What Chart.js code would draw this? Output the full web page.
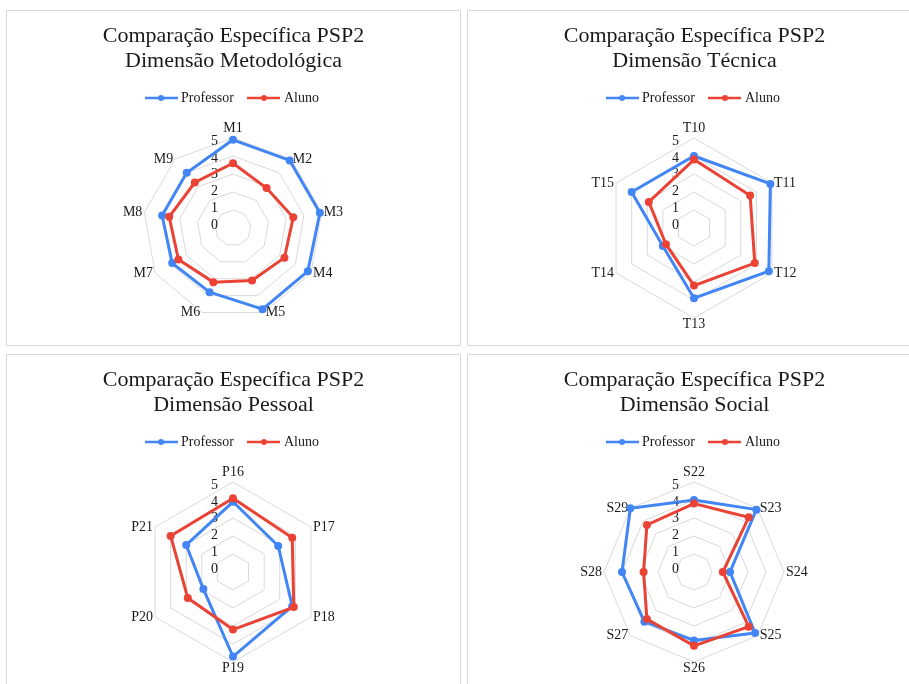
<!DOCTYPE html>
<html lang="pt">
<head>
<meta charset="utf-8">
<title>Comparação Específica PSP2</title>
<script src="https://cdn.jsdelivr.net/npm/chart.js@4.4.1/dist/chart.umd.min.js"></script>
<style>
  html, body { margin: 0; padding: 0; background: #ffffff; width: 909px; height: 684px; overflow: hidden; }
  .panel { position: absolute; width: 453px; height: 334px; border: 1px solid #dadada; background: #ffffff; }
  .panel canvas { display: block; }
</style>
</head>
<body>
<div class="panel" style="left:6px; top:10px;"><canvas id="chartMetodologica" width="453" height="334" style="width:453px;height:334px"></canvas></div>
<div class="panel" style="left:467px; top:10px;"><canvas id="chartTecnica" width="453" height="334" style="width:453px;height:334px"></canvas></div>
<div class="panel" style="left:6px; top:354px;"><canvas id="chartPessoal" width="453" height="334" style="width:453px;height:334px"></canvas></div>
<div class="panel" style="left:467px; top:354px;"><canvas id="chartSocial" width="453" height="334" style="width:453px;height:334px"></canvas></div>
<script>
// ---- data ----
const seriesNames = ['Professor', 'Aluno'];
const seriesColors = ['#4285F4', '#EA4335'];
const tickValues = [0, 1, 2, 3, 4, 5];
const titleLine = 'Comparação Específica PSP2';

const metodologicaTitle = 'Dimensão Metodológica';
const metodologicaLabels = ['M1', 'M2', 'M3', 'M4', 'M5', 'M6', 'M7', 'M8', 'M9'];
const metodologicaProfessor = [4.9, 4.9, 4.9, 4.8, 4.8, 3.8, 3.9, 4.0, 4.0];
const metodologicaAluno = [3.6, 2.9, 3.4, 3.3, 3.1, 3.2, 3.5, 3.6, 3.3];

const tecnicaTitle = 'Dimensão Técnica';
const tecnicaLabels = ['T10', 'T11', 'T12', 'T13', 'T14', 'T15'];
const tecnicaProfessor = [4.0, 4.9, 4.8, 3.9, 2.0, 4.0];
const tecnicaAluno = [3.8, 3.6, 3.9, 3.2, 1.8, 2.9];

const pessoalTitle = 'Dimensão Pessoal';
const pessoalLabels = ['P16', 'P17', 'P18', 'P19', 'P20', 'P21'];
const pessoalProfessor = [3.9, 2.9, 3.8, 4.7, 1.9, 3.0];
const pessoalAluno = [4.1, 3.8, 3.9, 3.2, 2.9, 4.0];

const socialTitle = 'Dimensão Social';
const socialLabels = ['S22', 'S23', 'S24', 'S25', 'S26', 'S27', 'S28', 'S29'];
const socialProfessor = [4.0, 4.9, 2.0, 4.8, 3.8, 3.9, 4.0, 5.0];
const socialAluno = [3.8, 4.3, 1.6, 4.3, 4.1, 3.7, 2.8, 3.7];

// ---- styling ----
const SERIF = '"Liberation Serif", "Times New Roman", Times, serif';
const TEXT_COLOR = '#1a1a1a';

// legend swatch: short line with a dot in the middle
function legendSwatch(color) {
  const c = document.createElement('canvas');
  c.width = 33; c.height = 10;
  const g = c.getContext('2d');
  g.strokeStyle = color; g.lineWidth = 2.5;
  g.beginPath(); g.moveTo(0, 5); g.lineTo(33, 5); g.stroke();
  g.fillStyle = color;
  g.beginPath(); g.arc(16.5, 5, 3, 0, Math.PI * 2); g.fill();
  return c;
}

// value labels beside the vertical axis and category labels around the web
const radarText = {
  id: 'radarText',
  beforeDatasetsDraw(chart) {
    const scale = chart.scales.r;
    const ctx = chart.ctx;
    ctx.save();
    ctx.fillStyle = TEXT_COLOR;
    ctx.font = '14px ' + SERIF;

    ctx.textAlign = 'right';
    ctx.textBaseline = 'middle';
    tickValues.forEach(v => {
      const d = scale.getDistanceFromCenterForValue(v);
      ctx.fillText(String(v), scale.xCenter - 15, scale.yCenter - d * 0.93 - 3);
    });

    const labels = chart.data.labels;
    const n = labels.length;
    const outer = scale.getDistanceFromCenterForValue(scale.max);
    labels.forEach((lab, i) => {
      const p = scale.getPointPosition(i, outer);
      const deg = 360 * i / n;
      let x = p.x, y = p.y;
      if (deg === 0) { ctx.textAlign = 'center'; ctx.textBaseline = 'bottom'; y -= 3; }
      else if (deg === 180) { ctx.textAlign = 'center'; ctx.textBaseline = 'top'; y -= 1; }
      else if (deg < 180) { ctx.textAlign = 'left'; ctx.textBaseline = 'middle'; x += 2; }
      else { ctx.textAlign = 'right'; ctx.textBaseline = 'middle'; x -= 2; }
      ctx.fillText(lab, x, y);
    });
    ctx.restore();
  }
};

function makeRadar(canvasId, subtitle, labels, professor, aluno) {
  const values = [professor, aluno];
  new Chart(document.getElementById(canvasId), {
    type: 'radar',
    data: {
      labels: labels,
      datasets: seriesNames.map((name, i) => ({
        label: name,
        data: values[i],
        borderColor: seriesColors[i],
        backgroundColor: seriesColors[i],
        pointBackgroundColor: seriesColors[i],
        pointBorderColor: seriesColors[i],
        pointBorderWidth: 0,
        pointRadius: 4,
        borderWidth: 3,
        fill: false,
        tension: 0,
        order: seriesNames.length - i
      }))
    },
    options: {
      responsive: false,
      animation: false,
      events: [],
      layout: { padding: { top: 0, bottom: 27, left: 0, right: 0 } },
      scales: {
        r: {
          min: 0,
          max: 5,
          ticks: { display: false, stepSize: 1 },
          pointLabels: { display: false },
          angleLines: { display: false },
          grid: { color: '#d9d9d9', lineWidth: 1 }
        }
      },
      plugins: {
        title: {
          display: true,
          text: [titleLine, subtitle],
          color: TEXT_COLOR,
          font: { family: SERIF, size: 22, weight: 'normal', lineHeight: 25 / 22 },
          padding: { top: 13, bottom: 0 }
        },
        // empty block that keeps the web clear of the legend
        subtitle: {
          display: true,
          text: [],
          weight: 0,
          padding: { top: 23, bottom: 0 }
        },
        legend: {
          position: 'top',
          labels: {
            usePointStyle: true,
            pointStyleWidth: 26,
            padding: 17,
            color: TEXT_COLOR,
            font: { family: SERIF, size: 14 },
            generateLabels(chart) {
              return chart.data.datasets.map((ds, i) => ({
                text: ds.label,
                datasetIndex: i,
                fillStyle: ds.borderColor,
                strokeStyle: ds.borderColor,
                fontColor: TEXT_COLOR,
                lineWidth: 0,
                pointStyle: legendSwatch(ds.borderColor),
                hidden: !chart.isDatasetVisible(i)
              }));
            }
          }
        },
        tooltip: { enabled: false }
      }
    },
    plugins: [radarText]
  });
}

makeRadar('chartMetodologica', metodologicaTitle, metodologicaLabels, metodologicaProfessor, metodologicaAluno);
makeRadar('chartTecnica', tecnicaTitle, tecnicaLabels, tecnicaProfessor, tecnicaAluno);
makeRadar('chartPessoal', pessoalTitle, pessoalLabels, pessoalProfessor, pessoalAluno);
makeRadar('chartSocial', socialTitle, socialLabels, socialProfessor, socialAluno);
</script>
</body>
</html>
